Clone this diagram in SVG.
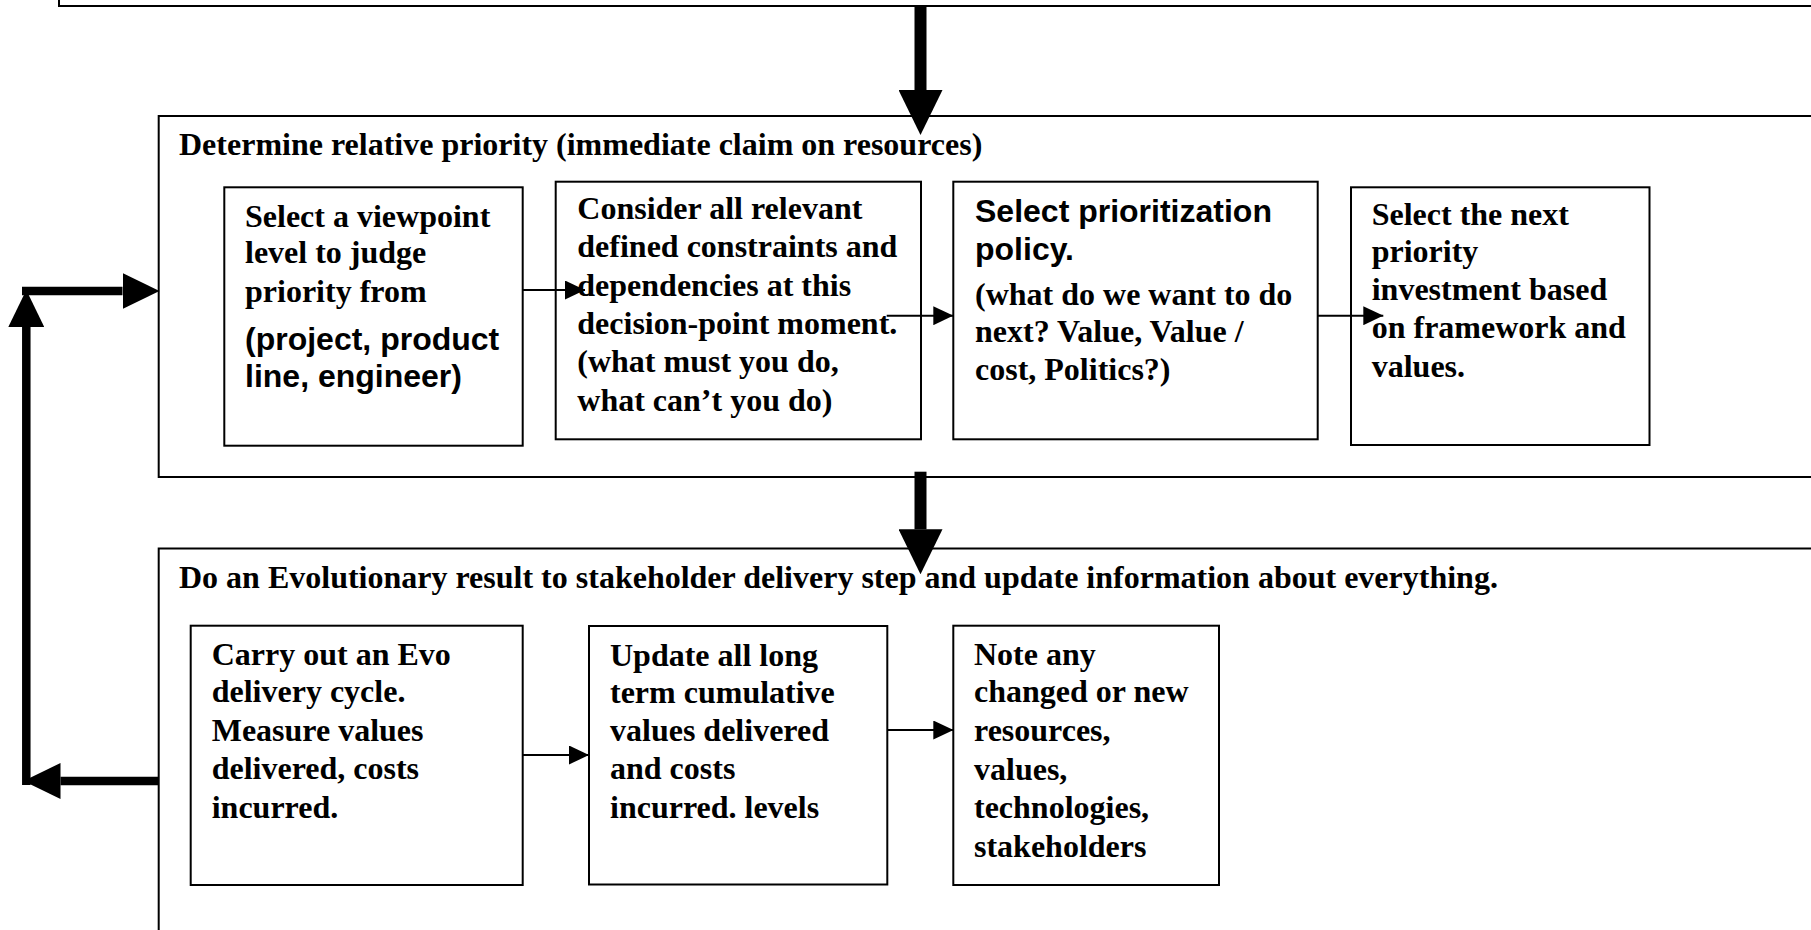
<svg xmlns="http://www.w3.org/2000/svg" width="1811" height="930" viewBox="0 0 1811 930">
  <style>
    .box { fill: #fff; stroke: #000; stroke-width: 2; }
    .t { font-family: "Liberation Serif", "Times New Roman", serif; font-weight: bold; font-size: 32px; fill: #000; }
    .a { font-family: "Liberation Sans", Arial, sans-serif; font-weight: bold; font-size: 32px; fill: #000; }
    .thin { stroke: #000; stroke-width: 2; fill: none; marker-end: url(#small); }
    .big { stroke: #000; stroke-width: 12; fill: none; marker-end: url(#bighead); }
    .loop { stroke: #000; stroke-width: 8.5; fill: none; }
  </style>
  <defs>
    <marker id="small" markerUnits="userSpaceOnUse" markerWidth="20" markerHeight="19" viewBox="0 0 20 19" refX="20" refY="9.5" orient="auto">
      <path d="M0,0 L20,9.5 L0,19 z" fill="#000"/>
    </marker>
    <marker id="bighead" markerUnits="userSpaceOnUse" markerWidth="45" markerHeight="44" viewBox="0 0 45 44" refX="0" refY="22" orient="auto">
      <path d="M0,0 L45,22 L0,44 z" fill="#000"/>
    </marker>
    <marker id="loophead" markerUnits="userSpaceOnUse" markerWidth="37" markerHeight="36" viewBox="0 0 37 36" refX="0" refY="18" orient="auto">
      <path d="M0,0 L37,18 L0,36 z" fill="#000"/>
    </marker>
  </defs>
  <rect width="1811" height="930" fill="#fff"/>

  <g id="top-stage">
    <rect class="box" x="59" y="-20" width="1800" height="26"/>
  </g>

  <g id="prioritize-stage">
    <rect class="box" x="158.7" y="116" width="1700" height="361"/>
    <text class="t" x="179" y="155">Determine relative priority (immediate claim on resources)</text>
  </g>

  <g id="viewpoint">
    <rect class="box" x="224.3" y="187.3" width="298.4" height="258.4"/>
    <text class="t" x="245" y="226.7">Select a viewpoint</text>
    <text class="t" x="245" y="263.3">level to judge</text>
    <text class="t" x="245" y="301.7">priority from</text>
    <text class="a" x="245" y="350">(project, product</text>
    <text class="a" x="245" y="386.7">line, engineer)</text>
  </g>

  <g id="constraints">
    <rect class="box" x="555.7" y="181.7" width="365.3" height="257.6"/>
    <text class="t" x="577.3" y="219">Consider all relevant</text>
    <text class="t" x="577.3" y="257.3">defined constraints and</text>
    <text class="t" x="577.3" y="295.7">dependencies at this</text>
    <text class="t" x="577.3" y="334">decision-point moment.</text>
    <text class="t" x="577.3" y="372.3">(what must you do,</text>
    <text class="t" x="577.3" y="410.7">what can’t you do)</text>
  </g>

  <g id="policy">
    <rect class="box" x="953.3" y="181.7" width="364.4" height="257.6"/>
    <text class="a" x="975" y="221.7">Select prioritization</text>
    <text class="a" x="975" y="260">policy.</text>
    <text class="t" x="975" y="305">(what do we want to do</text>
    <text class="t" x="975" y="341.7">next? Value, Value /</text>
    <text class="t" x="975" y="380">cost, Politics?)</text>
  </g>

  <g id="next-investment">
    <rect class="box" x="1351" y="187.3" width="298.5" height="257.7"/>
    <text class="t" x="1371.7" y="225">Select the next</text>
    <text class="t" x="1371.7" y="261.7">priority</text>
    <text class="t" x="1371.7" y="300">investment based</text>
    <text class="t" x="1371.7" y="338.3">on framework and</text>
    <text class="t" x="1371.7" y="376.7">values.</text>
  </g>

  <g id="delivery-stage">
    <rect class="box" x="158.7" y="548.5" width="1700" height="420"/>
    <text class="t" x="179" y="588.3">Do an Evolutionary result to stakeholder delivery step and update information about everything.</text>
  </g>

  <g id="evo-cycle">
    <rect class="box" x="190.7" y="625.7" width="332" height="259.3"/>
    <text class="t" x="211.7" y="665">Carry out an Evo</text>
    <text class="t" x="211.7" y="702">delivery cycle.</text>
    <text class="t" x="211.7" y="741">Measure values</text>
    <text class="t" x="211.7" y="779.3">delivered, costs</text>
    <text class="t" x="211.7" y="818.3">incurred.</text>
  </g>

  <g id="update-values">
    <rect class="box" x="589" y="626" width="298.3" height="258.5"/>
    <text class="t" x="610" y="666">Update all long</text>
    <text class="t" x="610" y="702.7">term cumulative</text>
    <text class="t" x="610" y="741">values delivered</text>
    <text class="t" x="610" y="779.3">and costs</text>
    <text class="t" x="610" y="817.7">incurred. levels</text>
  </g>

  <g id="note-changes">
    <rect class="box" x="953.3" y="625.7" width="265.7" height="259.3"/>
    <text class="t" x="974" y="665">Note any</text>
    <text class="t" x="974" y="702.3">changed or new</text>
    <text class="t" x="974" y="741">resources,</text>
    <text class="t" x="974" y="780">values,</text>
    <text class="t" x="974" y="818.3">technologies,</text>
    <text class="t" x="974" y="856.7">stakeholders</text>
  </g>

  <g id="connectors">
    <line class="big" x1="920.5" y1="6" x2="920.5" y2="90"/>
    <line class="big" x1="920.5" y1="471.7" x2="920.5" y2="529.3"/>
    <line class="thin" x1="522.7" y1="290" x2="585" y2="290"/>
    <line class="thin" x1="886.7" y1="315.7" x2="953.3" y2="315.7"/>
    <line class="thin" x1="1317.7" y1="315.7" x2="1383.3" y2="315.7"/>
    <line class="thin" x1="522.7" y1="755" x2="589" y2="755"/>
    <line class="thin" x1="887.3" y1="730" x2="953.3" y2="730"/>
    <line class="loop" x1="158.7" y1="781" x2="60.5" y2="781" marker-end="url(#loophead)"/>
    <line class="loop" x1="26.3" y1="785" x2="26.3" y2="327" marker-end="url(#loophead)"/>
    <line class="loop" x1="22" y1="291" x2="122.5" y2="291" marker-end="url(#loophead)"/>
  </g>
</svg>
